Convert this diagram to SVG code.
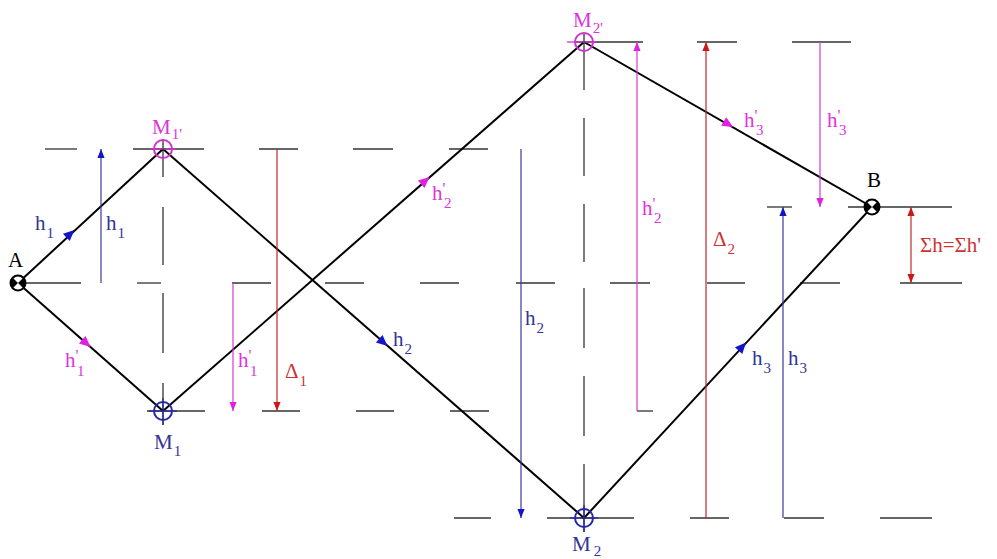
<svg xmlns="http://www.w3.org/2000/svg" width="997" height="559" viewBox="0 0 997 559">
<style>
.d{stroke:#333;stroke-width:1.3;fill:none}
.m{stroke:#000;stroke-width:2;fill:none}
.vb{stroke:#3a3a9a;stroke-width:1.2;fill:none}
.vm{stroke:#d63ad6;stroke-width:1.2;fill:none}
.vr{stroke:#c02828;stroke-width:1.2;fill:none}
text{font-family:"Liberation Serif","Times New Roman",serif;font-size:21px}
.s{font-size:15px}
.p{font-size:16px}
.tb{fill:#333399}
.tm{fill:#dd33dd}
.tr{fill:#cc3333}
.tk{fill:#000}
.hb{fill:#1414c8}
.hm{fill:#e020e0}
</style>
<defs>
<marker id="ab" viewBox="0 0 10 10" refX="10" refY="5" markerWidth="9" markerHeight="9" markerUnits="userSpaceOnUse" orient="auto"><path d="M0,1 L10,5 L0,9 z" fill="#1414c8"/></marker>
<marker id="am" viewBox="0 0 10 10" refX="10" refY="5" markerWidth="9" markerHeight="9" markerUnits="userSpaceOnUse" orient="auto"><path d="M0,1 L10,5 L0,9 z" fill="#e020e0"/></marker>
<marker id="ar" viewBox="0 0 10 10" refX="10" refY="5" markerWidth="9" markerHeight="9" markerUnits="userSpaceOnUse" orient="auto-start-reverse"><path d="M0,1 L10,5 L0,9 z" fill="#cc1818"/></marker>
<polygon id="tri" points="6,0 -5,-5 -5,5"/>
</defs>

<g id="grid">
<line class="d" x1="45" y1="149" x2="77" y2="149"/>
<line class="d" x1="133" y1="149" x2="204" y2="149"/>
<line class="d" x1="259" y1="149" x2="298" y2="149"/>
<line class="d" x1="353" y1="149" x2="393" y2="149"/>
<line class="d" x1="449" y1="149" x2="488" y2="149"/>

<line class="d" x1="20" y1="283" x2="81" y2="283"/>
<line class="d" x1="137" y1="283" x2="161" y2="283"/>
<line class="d" x1="232" y1="283" x2="271" y2="283"/>
<line class="d" x1="325" y1="283" x2="364" y2="283"/>
<line class="d" x1="420" y1="283" x2="459" y2="283"/>
<line class="d" x1="516" y1="283" x2="555" y2="283"/>
<line class="d" x1="610" y1="283" x2="650" y2="283"/>
<line class="d" x1="707" y1="283" x2="745" y2="283"/>
<line class="d" x1="800" y1="283" x2="840" y2="283"/>
<line class="d" x1="900" y1="283" x2="962" y2="283"/>

<line class="d" x1="147" y1="411" x2="205" y2="411"/>
<line class="d" x1="262" y1="411" x2="300" y2="411"/>
<line class="d" x1="356" y1="411" x2="394" y2="411"/>
<line class="d" x1="450" y1="411" x2="489" y2="411"/>
<line class="d" x1="637" y1="411" x2="653" y2="411"/>

<line class="d" x1="454" y1="518" x2="491" y2="518"/>
<line class="d" x1="547" y1="518" x2="634" y2="518"/>
<line class="d" x1="690" y1="518" x2="729" y2="518"/>
<line class="d" x1="784" y1="518" x2="824" y2="518"/>
<line class="d" x1="880" y1="518" x2="932" y2="518"/>

<line class="d" x1="575" y1="42" x2="643" y2="42"/>
<line class="d" x1="697" y1="42" x2="737" y2="42"/>
<line class="d" x1="792" y1="42" x2="851" y2="42"/>

<line class="d" x1="767" y1="207" x2="792" y2="207"/>
<line class="d" x1="848" y1="207" x2="952" y2="207"/>

<line class="d" x1="163" y1="139" x2="163" y2="177"/>
<line class="d" x1="163" y1="207" x2="163" y2="265"/>
<line class="d" x1="163" y1="293" x2="163" y2="353"/>
<line class="d" x1="163" y1="383" x2="163" y2="425"/>

<line class="d" x1="584" y1="34" x2="584" y2="90"/>
<line class="d" x1="584" y1="118" x2="584" y2="176"/>
<line class="d" x1="584" y1="204" x2="584" y2="262"/>
<line class="d" x1="584" y1="288" x2="584" y2="348"/>
<line class="d" x1="584" y1="376" x2="584" y2="436"/>
<line class="d" x1="584" y1="464" x2="584" y2="532"/>
</g>

<g id="connectors">
<line class="m" x1="18" y1="283" x2="163" y2="149"/>
<line class="m" x1="18" y1="283" x2="163" y2="411"/>
<line class="m" x1="163" y1="149" x2="584" y2="518"/>
<line class="m" x1="163" y1="411" x2="584" y2="42"/>
<line class="m" x1="584" y1="42" x2="872" y2="207"/>
<line class="m" x1="584" y1="518" x2="872" y2="207"/>

<use href="#tri" class="hb" transform="translate(70,234) rotate(-42.5)"/>
<use href="#tri" class="hm" transform="translate(86,343) rotate(41.2)"/>
<use href="#tri" class="hb" transform="translate(383,342) rotate(41.2)"/>
<use href="#tri" class="hm" transform="translate(425,181) rotate(-41.2)"/>
<use href="#tri" class="hm" transform="translate(728,124) rotate(29.8)"/>
<use href="#tri" class="hb" transform="translate(742,347) rotate(-47.2)"/>

<line class="vb" x1="101" y1="283" x2="101" y2="149" marker-end="url(#ab)"/>
<line class="vm" x1="233" y1="283" x2="233" y2="411" marker-end="url(#am)"/>
<line class="vr" x1="277" y1="149" x2="277" y2="411" marker-end="url(#ar)"/>
<line class="vb" x1="521" y1="149" x2="521" y2="518" marker-end="url(#ab)"/>
<line class="vm" x1="637" y1="411" x2="637" y2="42" marker-end="url(#am)"/>
<line class="vr" x1="706" y1="518" x2="706" y2="42" marker-end="url(#ar)"/>
<line class="vm" x1="820" y1="42" x2="820" y2="207" marker-end="url(#am)"/>
<line class="vb" x1="783" y1="518" x2="783" y2="207" marker-end="url(#ab)"/>
<line class="vr" x1="911" y1="207" x2="911" y2="283" marker-start="url(#ar)" marker-end="url(#ar)"/>
</g>

<g id="A">
<circle cx="18" cy="283" r="7.5" fill="#fff" stroke="#000" stroke-width="2"/>
<path d="M18,283 L12.7,277.7 A7.5,7.5 0 0 0 12.7,288.3 Z M18,283 L23.3,277.7 A7.5,7.5 0 0 1 23.3,288.3 Z" fill="#000"/>
<text class="tk" x="8" y="267">A</text>
</g>
<g id="B">
<circle cx="872" cy="207" r="7.5" fill="#fff" stroke="#000" stroke-width="2"/>
<path d="M872,207 L866.7,201.7 A7.5,7.5 0 0 0 866.7,212.3 Z M872,207 L877.3,201.7 A7.5,7.5 0 0 1 877.3,212.3 Z" fill="#000"/>
<text class="tk" x="867" y="187">B</text>
</g>
<g id="M1p">
<circle cx="163" cy="149" r="9" fill="none" stroke="#cc33cc" stroke-width="2"/>
<line x1="150" y1="149" x2="176" y2="149" stroke="#cc33cc" stroke-width="1.3"/>
<text class="tm" x="152" y="134">M<tspan class="s" dx="1" dy="5">1'</tspan></text>
</g>
<g id="M1">
<circle cx="163" cy="411" r="9" fill="none" stroke="#2828a0" stroke-width="2"/>
<line x1="149" y1="411" x2="177" y2="411" stroke="#2828a0" stroke-width="1.3"/>
<line x1="163" y1="398" x2="163" y2="425" stroke="#2828a0" stroke-width="1.3"/>
<text class="tb" x="154" y="449">M<tspan class="s" dx="1" dy="7">1</tspan></text>
</g>
<g id="M2p">
<circle cx="584" cy="42" r="9" fill="none" stroke="#cc33cc" stroke-width="2"/>
<line x1="567" y1="42" x2="597" y2="42" stroke="#cc33cc" stroke-width="1.3"/>
<text class="tm" x="573" y="27">M<tspan class="s" dx="1" dy="6">2'</tspan></text>
</g>
<g id="M2">
<circle cx="584" cy="518" r="9" fill="none" stroke="#2828a0" stroke-width="2"/>
<line x1="570" y1="518" x2="598" y2="518" stroke="#2828a0" stroke-width="1.3"/>
<line x1="584" y1="505" x2="584" y2="532" stroke="#2828a0" stroke-width="1.3"/>
<text class="tb" x="572" y="551">M<tspan class="s" dx="3" dy="5">2</tspan></text>
</g>

<g id="labels">
<text class="tb" x="35" y="230">h<tspan class="s" dx="1" dy="8">1</tspan></text>
<text class="tb" x="106" y="230">h<tspan class="s" dx="1" dy="8">1</tspan></text>
<text class="tm" x="65" y="367">h<tspan class="p" dy="-6">'</tspan><tspan class="s" x="77" dy="15">1</tspan></text>
<text class="tm" x="238" y="367">h<tspan class="p" dy="-6">'</tspan><tspan class="s" x="250" dy="15">1</tspan></text>
<text class="tr" x="285" y="378">Δ<tspan class="s" dx="1" dy="8">1</tspan></text>
<text class="tm" x="432" y="200">h<tspan class="p" dy="-6">'</tspan><tspan class="s" x="444" dy="14">2</tspan></text>
<text class="tb" x="393" y="346">h<tspan class="s" dx="1" dy="8">2</tspan></text>
<text class="tb" x="525" y="325">h<tspan class="s" dx="1" dy="8">2</tspan></text>
<text class="tm" x="642" y="215">h<tspan class="p" dy="-6">'</tspan><tspan class="s" x="654" dy="14">2</tspan></text>
<text class="tr" x="713" y="246">Δ<tspan class="s" dx="1" dy="8">2</tspan></text>
<text class="tm" x="744" y="127">h<tspan class="p" dy="-6">'</tspan><tspan class="s" x="756" dy="14">3</tspan></text>
<text class="tm" x="827" y="127">h<tspan class="p" dy="-6">'</tspan><tspan class="s" x="839" dy="14">3</tspan></text>
<text class="tb" x="752" y="365">h<tspan class="s" dx="1" dy="8">3</tspan></text>
<text class="tb" x="788" y="365">h<tspan class="s" dx="1" dy="8">3</tspan></text>
<text class="tr" x="920" y="252" style="font-size:21px">Σh=Σh'</text>
</g>
</svg>
